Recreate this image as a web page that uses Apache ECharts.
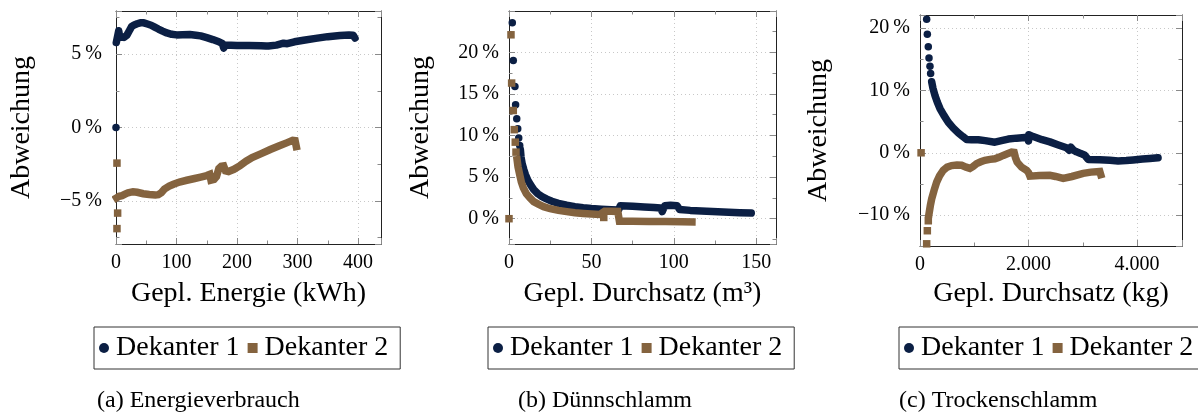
<!DOCTYPE html>
<html><head><meta charset="utf-8">
<script src="https://cdn.jsdelivr.net/npm/echarts@6/dist/echarts.min.js"></script>
<style>html,body{margin:0;padding:0;background:#fff}#c{width:1198px;height:412px}</style>
</head><body><div id="c"></div>
<script>
// ---------- labels ----------
const seriesNames = ['Dekanter 1', 'Dekanter 2'];
const xTitles = ['Gepl. Energie (kWh)', 'Gepl. Durchsatz (m\u00B3)', 'Gepl. Durchsatz (kg)'];
const yTitle = 'Abweichung';
const captions = ['(a) Energieverbrauch', '(b) D\u00FCnnschlamm', '(c) Trockenschlamm'];

// ---------- (a) Energieverbrauch: [kWh, %] ----------
const energyD1Sparse = [[0, 0]];
const energyD1 = [[0.5,5.8],[3,6.3],[4.5,6.6],[6,6.2],[9,6.1],[13,6.15],[18,6.3],[22,6.6],[26,6.9],[30,7.0],[35,7.08],[40,7.14],[46,7.14],[52,7.06],[58,6.98],[64,6.85],[70,6.72],[77,6.58],[84,6.45],[92,6.36],[100,6.32],[110,6.33],[122,6.35],[132,6.3],[140,6.25],[150,6.13],[160,6.0],[170,5.85],[176,5.72],[178,5.42],[181,5.62],[190,5.62],[200,5.6],[220,5.6],[240,5.58],[248,5.56],[250,5.45],[252,5.56],[265,5.62],[277,5.75],[280,5.85],[283,5.72],[295,5.85],[310,5.95],[330,6.08],[350,6.2],[370,6.28],[385,6.32],[392,6.3],[395,6.1]];
const energyD2Sparse = [[1.6,-2.43],[2.7,-5.84],[1.6,-6.9]];
const energyD2 = [[1,-4.8],[5,-4.7],[10,-4.65],[15,-4.55],[20,-4.45],[28,-4.38],[35,-4.42],[45,-4.52],[55,-4.57],[65,-4.6],[70,-4.58],[75,-4.45],[80,-4.2],[88,-4.0],[95,-3.87],[105,-3.72],[117,-3.6],[130,-3.48],[140,-3.38],[150,-3.28],[155,-3.2],[157,-3.6],[162,-3.55],[166,-3.35],[170,-2.8],[174,-2.65],[178,-2.62],[181,-2.95],[186,-3.0],[195,-2.85],[205,-2.6],[215,-2.3],[225,-2.05],[240,-1.78],[255,-1.5],[270,-1.25],[282,-1.05],[292,-0.88],[296,-0.9],[298,-1.3]];

// ---------- (b) Dünnschlamm: [m3, %] ----------
const thinD1Sparse = [[2.0,23.56],[2.6,19.0],[3.6,15.9],[4.0,13.7],[4.7,12.0],[5.3,10.8],[5.9,9.7],[6.5,8.8]];
const thinD1 = [[6.9,8.3],[7.3,7.4],[8,6.6],[9,5.9],[10,5.3],[11.5,4.6],[13,4.1],[15,3.5],[17.5,3.0],[20,2.65],[23,2.35],[26,2.1],[30,1.85],[35,1.62],[40,1.45],[45,1.32],[50,1.22],[56,1.14],[62,1.08],[66.5,1.05],[67.5,1.55],[75,1.5],[82,1.42],[88,1.35],[92,1.3],[93,0.85],[94.5,1.55],[98,1.62],[102,1.55],[103.5,1.1],[110,1.0],[120,0.9],[130,0.8],[140,0.72],[147,0.68]];
const thinD2Sparse = [[0,0],[1.2,22.1],[1.6,16.3],[2.6,13.0],[3.2,10.7],[3.8,9.2],[4.25,8.0],[57.5,0.15]];
const thinD2 = [[4.9,7.1],[5.5,6.2],[6.7,5.1],[7.5,4.4],[8.7,3.7],[10.5,3.0],[12.75,2.5],[15,2.05],[17.8,1.75],[21,1.45],[25,1.2],[30,1.0],[35,0.85],[40,0.72],[45,0.63],[50,0.56],[55,0.5],[58,0.9],[62,0.9],[66,0.88],[67,-0.3],[75,-0.32],[85,-0.33],[95,-0.35],[105,-0.38],[111,-0.4]];

// ---------- (c) Trockenschlamm: [kg, %] ----------
const dryD1Sparse = [[123,21.4],[135,19.0],[153,17.0],[166,15.2],[184,13.9],[196,12.7]];
const dryD1 = [[215,11.4],[240,10.3],[276,9.2],[320,8.1],[368,7.1],[440,6.0],[521,4.9],[610,4.0],[705,3.2],[790,2.6],[859,2.15],[950,2.1],[1073,2.1],[1200,1.95],[1380,1.7],[1500,1.95],[1626,2.2],[1780,2.35],[1933,2.45],[1990,2.4],[2000,1.9],[2005,2.9],[2030,2.75],[2086,2.6],[2250,2.1],[2393,1.75],[2550,1.25],[2700,0.8],[2750,0.4],[2780,0.9],[2830,0.4],[2884,0.15],[2960,-0.1],[3037,-0.4],[3070,-0.7],[3099,-1.07],[3313,-1.1],[3500,-1.2],[3650,-1.3],[3800,-1.25],[3927,-1.15],[4100,-1.0],[4233,-0.9],[4387,-0.8]];
const dryD2Sparse = [[20,0],[123,-14.6],[135,-12.5],[153,-10.9]];
const dryD2 = [[166,-9.8],[190,-8.5],[215,-7.4],[260,-6.0],[307,-4.7],[360,-3.7],[429,-2.8],[500,-2.3],[583,-2.05],[680,-1.95],[767,-2.0],[850,-2.3],[920,-2.5],[980,-2.2],[1043,-1.75],[1120,-1.45],[1196,-1.2],[1290,-1.05],[1380,-0.95],[1460,-0.7],[1534,-0.42],[1610,-0.15],[1687,0.1],[1735,0.05],[1760,-0.8],[1790,-1.5],[1872,-2.3],[1964,-2.8],[2000,-3.2],[2025,-3.75],[2200,-3.65],[2393,-3.6],[2500,-3.8],[2638,-4.1],[2800,-3.8],[3006,-3.3],[3150,-3.1],[3313,-3.0],[3330,-3.5]];

// ---------- styling ----------
const FONT = "'Liberation Serif', 'Times New Roman', serif";
const NAVY = '#0b1f44', BROWN = '#84633f';
const FRAME = '#222', TICK = '#8a8a8a', GRIDC = '#c8c8c8';

const panels = [
  { grid:{left:116, top:11, width:265, height:233},
    x:{min:0, max:438, major:100, minor:50, thousands:false, nameGap:36},
    y:{min:-7.95, max:7.95, major:5, minor:2.5, margin:14, nameGap:80},
    legendLeft:94, legendPadRight:12, captionLeft:97,
    data:[energyD1Sparse, energyD1, energyD2Sparse, energyD2] },
  { grid:{left:509, top:11, width:267, height:233},
    x:{min:0, max:162, major:50, minor:25, thousands:false, nameGap:36},
    y:{min:-3.04, max:24.96, major:5, minor:2.5, margin:10, nameGap:74},
    legendLeft:488, legendPadRight:12, captionLeft:518,
    data:[thinD1Sparse, thinD1, thinD2Sparse, thinD2] },
  { grid:{left:920, top:15, width:262, height:231},
    x:{min:0, max:4828, major:2000, minor:1000, thousands:true, nameGap:34},
    y:{min:-14.95, max:22.1, major:10, minor:5, margin:10, nameGap:87},
    legendLeft:899, legendPadRight:6, captionLeft:899,
    data:[dryD1Sparse, dryD1, dryD2Sparse, dryD2] }
];

function isMult(v, step){ const r = v/step; return Math.abs(r - Math.round(r)) < 1e-6; }
function fmtPct(step){ return v => isMult(v,step) ? (v<0 ? '\u2212'+(-v) : String(v)) + '\u2009%' : ''; }
function fmtNum(step, th){ return v => { if(!isMult(v,step)) return ''; let s = String(Math.round(v)); if (th) s = s.replace(/\B(?=(\d{3})+(?!\d))/g,'.'); return s; }; }

const xAxes = [], yAxes = [], series = [];
panels.forEach((p, i) => {
  const xb = {gridIndex:i, type:'value', min:p.x.min, max:p.x.max};
  const yb = {gridIndex:i, type:'value', min:p.y.min, max:p.y.max};
  const line = {show:true, onZero:false, lineStyle:{color:FRAME, width:1}};
  const noLine = {show:false, onZero:false};
  const major = {show:true, inside:true, length:6, lineStyle:{color:TICK, width:1}};
  const minor = {show:true, inside:true, length:3.5, lineStyle:{color:TICK, width:1}};
  xAxes.push(Object.assign({}, xb, {position:'bottom', minInterval:p.x.major, maxInterval:p.x.major,
    axisLine:line, axisTick:major,
    axisLabel:{show:true, margin:9, fontFamily:FONT, fontSize:20, color:'#000', formatter:fmtNum(p.x.major, p.x.thousands), hideOverlap:false},
    splitLine:{show:true, lineStyle:{type:[1,3], color:GRIDC, width:1}},
    name:xTitles[i], nameLocation:'middle', nameGap:p.x.nameGap,
    nameTextStyle:{fontFamily:FONT, fontSize:28, color:'#000'}}));
  xAxes.push(Object.assign({}, xb, {position:'top', minInterval:p.x.major, maxInterval:p.x.major,
    axisLine:line, axisTick:major, axisLabel:{show:false}, splitLine:{show:false}}));
  xAxes.push(Object.assign({}, xb, {position:'bottom', minInterval:p.x.minor, maxInterval:p.x.minor,
    axisLine:noLine, axisTick:minor, axisLabel:{show:false}, splitLine:{show:false}}));
  xAxes.push(Object.assign({}, xb, {position:'top', minInterval:p.x.minor, maxInterval:p.x.minor,
    axisLine:noLine, axisTick:minor, axisLabel:{show:false}, splitLine:{show:false}}));
  yAxes.push(Object.assign({}, yb, {position:'left', minInterval:p.y.major, maxInterval:p.y.major,
    axisLine:line, axisTick:major,
    axisLabel:{show:true, margin:p.y.margin, fontFamily:FONT, fontSize:20, color:'#000', formatter:fmtPct(p.y.major), hideOverlap:false},
    splitLine:{show:true, lineStyle:{type:[1,3], color:GRIDC, width:1}},
    name:yTitle, nameLocation:'middle', nameGap:p.y.nameGap,
    nameTextStyle:{fontFamily:FONT, fontSize:28, color:'#000'}}));
  yAxes.push(Object.assign({}, yb, {position:'right', minInterval:p.y.major, maxInterval:p.y.major,
    axisLine:line, axisTick:major, axisLabel:{show:false}, splitLine:{show:false}}));
  yAxes.push(Object.assign({}, yb, {position:'left', minInterval:p.y.minor, maxInterval:p.y.minor,
    axisLine:noLine, axisTick:minor, axisLabel:{show:false}, splitLine:{show:false}}));
  yAxes.push(Object.assign({}, yb, {position:'right', minInterval:p.y.minor, maxInterval:p.y.minor,
    axisLine:noLine, axisTick:minor, axisLabel:{show:false}, splitLine:{show:false}}));

  const xi = 4*i, yi = 4*i;
  const cols = [NAVY, BROWN], syms = ['circle', 'rect'];
  [0,1].forEach(k => {
    series.push({type:'scatter', name:seriesNames[k], xAxisIndex:xi, yAxisIndex:yi,
      data:p.data[2*k], symbol:syms[k], symbolSize:7.5, clip:false,
      itemStyle:{color:cols[k], opacity:1}, emphasis:{disabled:true}, z:2+k});
    series.push({type:'line', name:seriesNames[k], xAxisIndex:xi, yAxisIndex:yi,
      data:p.data[2*k+1], symbol:'none', clip:false, color:cols[k],
      lineStyle:{color:cols[k], width:7.5, opacity:1, cap:k===0?'round':'square', join:k===0?'round':'miter', miterLimit:3},
      emphasis:{disabled:true}, z:2+k});
  });
});

const option = {
  animation:false,
  backgroundColor:'#fff',
  grid: panels.map(p => Object.assign({containLabel:false}, p.grid)),
  xAxis: xAxes, yAxis: yAxes, series: series,
  legend: panels.map(p => ({
    left:p.legendLeft, top:327, width:340, orient:'horizontal', selectedMode:false,
    data:[{name:seriesNames[0], icon:'circle'}, {name:seriesNames[1], icon:'rect'}],
    itemWidth:10, itemHeight:10, itemGap:8,
    borderColor:'#333', borderWidth:1, padding:[5,p.legendPadRight,5,5], backgroundColor:'#fff',
    itemStyle:{borderWidth:0, opacity:1},
    textStyle:{fontFamily:FONT, fontSize:28, lineHeight:32, color:'#000', padding:[0,0,0,2]}
  })),
  title: panels.map((p, i) => ({
    text:captions[i], left:p.captionLeft, top:389, padding:0,
    textStyle:{fontFamily:FONT, fontSize:24, fontWeight:'normal', color:'#000'}
  }))
};
const chart = echarts.init(document.getElementById('c'), null, {renderer:'canvas'});
chart.setOption(option);
</script></body></html>
